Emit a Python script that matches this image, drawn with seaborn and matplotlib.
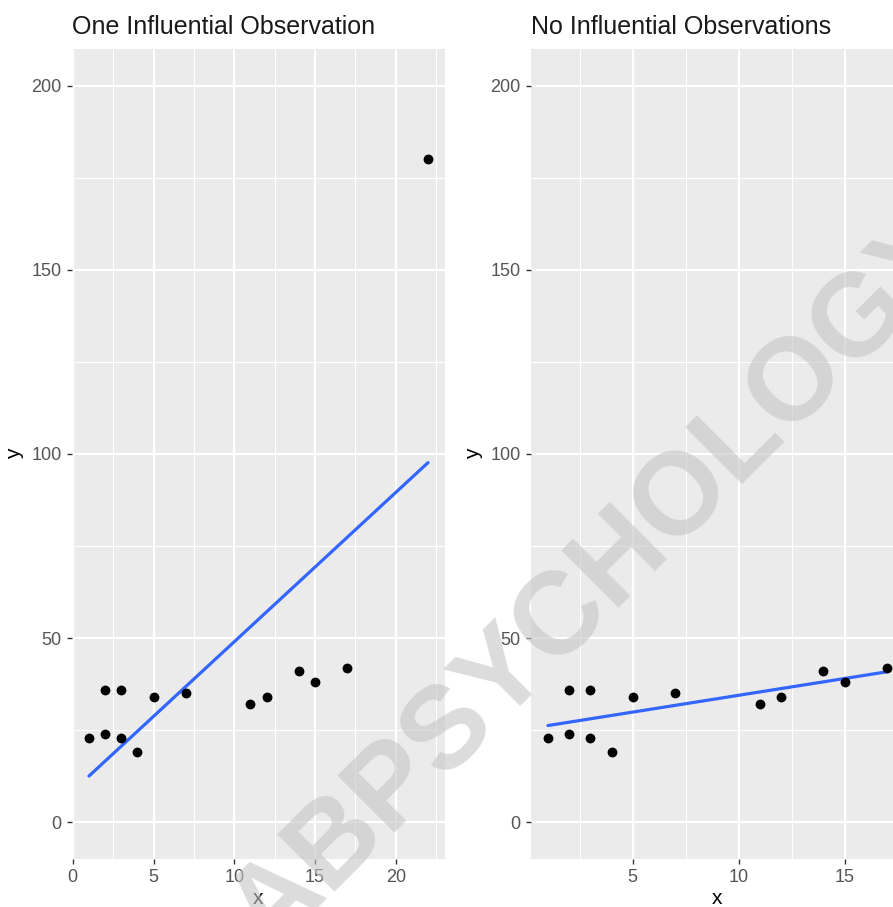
import numpy as np
import pandas as pd
import matplotlib
matplotlib.use("Agg")
import matplotlib.pyplot as plt
import seaborn as sns
from matplotlib.ticker import FixedLocator

# ---- data ----
x_vals = [1, 2, 2, 3, 3, 4, 5, 7, 11, 12, 14, 15, 17]
y_vals = [23, 24, 36, 36, 23, 19, 34, 35, 32, 34, 41, 38, 42]
infl_x = [22]
infl_y = [180]
titles = ["One Influential Observation", "No Influential Observations"]
y_ticks = [0, 50, 100, 150, 200]
left_x_ticks = [0, 5, 10, 15, 20]
right_x_ticks = [5, 10, 15]
watermark = "ABPSYCHOLOGY"

df_all = pd.DataFrame({"x": x_vals + infl_x, "y": y_vals + infl_y})
df_no = pd.DataFrame({"x": x_vals, "y": y_vals})

sns.set_style("white")
plt.rcParams["font.family"] = ["Liberation Sans", "DejaVu Sans"]

W, H = 893, 907
fig = plt.figure(figsize=(W / 100, H / 100), dpi=100)

def px_axes(l, r, t, b):
    return fig.add_axes([l / W, 1 - b / H, (r - l) / W, (b - t) / H])

ax1 = px_axes(72, 445, 49, 859)
ax2 = px_axes(531, 904, 49, 859)

def style(ax, xticks, xminor, xlim, title):
    ax.set_facecolor("#EBEBEB")
    for s in ax.spines.values():
        s.set_visible(False)
    ax.set_ylim(-10, 210)
    ax.set_xlim(*xlim)
    ax.yaxis.set_major_locator(FixedLocator(y_ticks))
    ax.yaxis.set_minor_locator(FixedLocator([25, 75, 125, 175]))
    ax.xaxis.set_major_locator(FixedLocator(xticks))
    ax.xaxis.set_minor_locator(FixedLocator(xminor))
    ax.grid(which="major", color="white", linewidth=1.6, zorder=0)
    ax.grid(which="minor", color="white", linewidth=0.8, zorder=0)
    ax.set_axisbelow(True)
    ax.tick_params(which="major", length=3.5, width=1.0, color="#333333",
                   labelsize=13, labelcolor="#555555", pad=4,
                   bottom=True, left=True)
    ax.tick_params(which="minor", length=0)
    ax.set_xlabel("x", fontsize=15, color="black", labelpad=2)
    ax.set_ylabel("y", fontsize=15, color="black", labelpad=5)
    ax.set_title(title, loc="left", fontsize=18, color="#1A1A1A", pad=11)

sk = dict(color="black", s=50, linewidths=0, alpha=1, zorder=3)
lk = dict(color="#3366FF", linewidth=2.3, zorder=2)
sns.regplot(data=df_all, x="x", y="y", ax=ax1, ci=None, truncate=True,
            scatter_kws=sk, line_kws=lk)
sns.regplot(data=df_no, x="x", y="y", ax=ax2, ci=None, truncate=True,
            scatter_kws=sk, line_kws=lk)

style(ax1, left_x_ticks, [2.5, 7.5, 12.5, 17.5, 22.5], (-0.05, 23.05), titles[0])
style(ax2, right_x_ticks, [2.5, 7.5, 12.5, 17.5], (0.2, 17.8), titles[1])

fig.text(598 / W, 1 - 582 / H, watermark, rotation=45, rotation_mode="anchor",
         ha="center", va="center",
         fontsize=84, fontweight="bold", color="#C5C5C5", alpha=0.6,
         family=["Liberation Sans", "DejaVu Sans"], zorder=10)

fig.savefig("out.png", dpi=100)
